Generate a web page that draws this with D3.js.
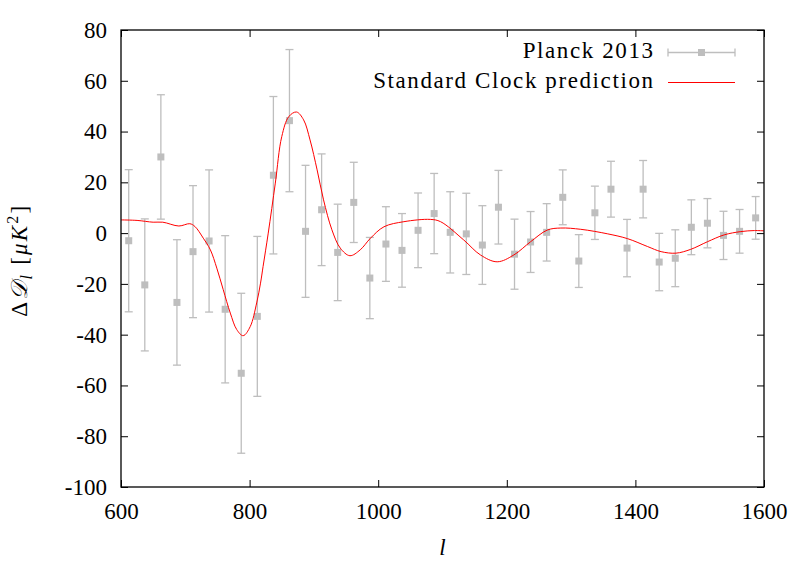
<!DOCTYPE html>
<html>
<head>
<meta charset="utf-8">
<script src="https://cdn.jsdelivr.net/npm/d3@7"></script>
<style>
	body { margin: 0; background: #fff; }
	text { font-family: "Liberation Serif", "DejaVu Serif", serif; }
</style>
</head>
<body>
<svg id="svg1" width="809" height="567"></svg>
<script>

// Planck 2013 binned residuals
var multipoles = [612, 637, 662, 687, 712, 737, 762, 787, 812, 837,
	862, 887, 912, 937, 962, 987, 1012, 1037, 1062, 1087,
	1112, 1137, 1162, 1187, 1212, 1237, 1262, 1287, 1312, 1337,
	1362, 1387, 1412, 1437, 1462, 1487, 1512, 1537, 1562, 1587];
var planck_values = [-3, -20.4, 30, -27.3, -7.3, -3.1, -30, -55.2, -32.8, 22.8,
	44.3, 0.7, 9.2, -7.6, 12.1, -17.7, -4.3, -6.8, 1.1, 7.7,
	0.3, -0.3, -4.7, 10.2, -8.3, -3.5, 0.3, 14.1, -11, 8,
	17.3, -5.9, 17.3, -11.4, -9.9, 2.3, 3.9, -0.9, 0.7, 6];
var planck_errors = [28, 26, 24.5, 24.7, 26, 28, 29, 31.5, 31.5, 31,
	28, 26, 22, 19, 15.8, 16, 14.7, 14.5, 14.7, 15.8,
	16, 16, 15.5, 14.5, 13.8, 12, 11.3, 10.8, 10.4, 10.5,
	11, 11.3, 11.3, 11.3, 11.2, 10.8, 9.7, 9.5, 8.6, 8.4];

// standard clock curve
var clock_l = [600, 625, 650, 665, 690, 707, 715, 728, 739, 749,
	759, 770, 780, 790, 801, 811, 817, 821, 829, 840,
	850, 861, 873, 884, 894, 905, 915, 928, 941, 956,
	972, 988, 1009, 1040, 1081, 1097, 1133, 1159, 1185, 1211,
	1237, 1263, 1284, 1315, 1357, 1388, 1419, 1440, 1463, 1486,
	1512, 1538, 1564, 1585, 1600];
var clock_values = [5.2, 5.0, 4.3, 4.3, 2.8, 3.7, 2.6, -2, -6.6, -13.8,
	-22.3, -31.5, -38, -40.4, -36.8, -27.5, -19.7, -13.1, 0, 19.7,
	38, 45.9, 47.7, 44.6, 36.7, 24.9, 13.1, 1.3, -5.9, -8.9,
	-6.6, -2, 2.5, 4.5, 5.4, 4.5, -2.7, -8.6, -11.3, -8.6,
	-3.4, 1.2, 2, 1.5, -0.3, -2.2, -5.3, -7.3, -7.9, -6.4,
	-3.4, -0.7, 0.6, 1, 0.9];

var x_ticks = [600, 800, 1000, 1200, 1400, 1600];
var y_ticks = [-100, -80, -60, -40, -20, 0, 20, 40, 60, 80];

var legend_labels = ["Planck 2013", "Standard Clock prediction"];

var draw_chart = function()
{
	var margin = {top: 30, right: 45, bottom: 80, left: 121},
		width = 809 - margin.left - margin.right,
		height = 567 - margin.top - margin.bottom;

	var grey = "#bebebe";
	var font_size = "23px";

	var svg = d3.select("#svg1")
		.append("g")
		.attr("transform", "translate(" + margin.left + "," + margin.top + ")");

	var x = d3.scaleLinear().domain([600, 1600]).range([0, width]);
	var y = d3.scaleLinear().domain([-100, 80]).range([height, 0]);

	// ticks drawn inward on all four sides (gnuplot style)
	var xAxis = d3.axisBottom(x).tickValues(x_ticks).tickFormat(d3.format("d"))
		.tickSizeInner(-7).tickSizeOuter(0).tickPadding(16);
	var yAxis = d3.axisLeft(y).tickValues(y_ticks).tickFormat(d3.format("d"))
		.tickSizeInner(-7).tickSizeOuter(0).tickPadding(14);

	var gx = svg.append("g")
		.attr("transform", "translate(0," + height + ")")
		.call(xAxis);
	var gy = svg.append("g").call(yAxis);

	svg.append("g")
		.call(d3.axisTop(x).tickValues(x_ticks).tickSizeInner(-7).tickSizeOuter(0).tickFormat(""));
	svg.append("g")
		.attr("transform", "translate(" + width + ",0)")
		.call(d3.axisRight(y).tickValues(y_ticks).tickSizeInner(-7).tickSizeOuter(0).tickFormat(""));

	svg.selectAll(".domain").remove();
	svg.selectAll(".tick line").attr("stroke", "#000").attr("stroke-width", 1);
	svg.selectAll(".tick text")
		.style("font-size", font_size)
		.style("font-family", "Liberation Serif")
		.attr("fill", "#000");
	gx.selectAll(".tick text").attr("dy", "0.71em");
	// hyphen rather than the unicode minus, as in the original
	gy.selectAll(".tick text").text(function(d) { return String(d); });

	// data: error bars + squares
	var pts = multipoles.map(function(l, i) {
		return {l: l, v: planck_values[i], e: planck_errors[i]};
	});

	var bars = svg.append("g").selectAll(".bar")
		.data(pts)
		.enter().append("g")
		.attr("class", "bar")
		.attr("stroke", grey)
		.attr("stroke-width", 1.3);

	bars.append("line")
		.attr("x1", function(d) { return x(d.l); })
		.attr("x2", function(d) { return x(d.l); })
		.attr("y1", function(d) { return y(d.v + d.e); })
		.attr("y2", function(d) { return y(d.v - d.e); });
	bars.append("line")
		.attr("x1", function(d) { return x(d.l) - 4; })
		.attr("x2", function(d) { return x(d.l) + 4; })
		.attr("y1", function(d) { return y(d.v + d.e); })
		.attr("y2", function(d) { return y(d.v + d.e); });
	bars.append("line")
		.attr("x1", function(d) { return x(d.l) - 4; })
		.attr("x2", function(d) { return x(d.l) + 4; })
		.attr("y1", function(d) { return y(d.v - d.e); })
		.attr("y2", function(d) { return y(d.v - d.e); });

	svg.append("g").selectAll("rect")
		.data(pts)
		.enter().append("rect")
		.attr("x", function(d) { return x(d.l) - 3.5; })
		.attr("y", function(d) { return y(d.v) - 3.5; })
		.attr("width", 7)
		.attr("height", 7)
		.attr("fill", grey);

	// prediction curve
	var line = d3.line()
		.x(function(d) { return x(d[0]); })
		.y(function(d) { return y(d[1]); })
		.curve(d3.curveCatmullRom.alpha(0.5));

	svg.append("path")
		.datum(clock_l.map(function(l, i) { return [l, clock_values[i]]; }))
		.attr("d", line)
		.attr("fill", "none")
		.attr("stroke", "#ff0000")
		.attr("stroke-width", 1);

	// frame
	svg.append("rect")
		.attr("width", width)
		.attr("height", height)
		.attr("fill", "none")
		.attr("stroke", "#000")
		.attr("stroke-width", 1.3);

	// legend
	var legend = svg.append("g").attr("transform", "translate(532,0)");
	legend.selectAll("text")
		.data(legend_labels)
		.enter().append("text")
		.attr("x", 1.6)
		.attr("y", function(d, i) { return 28 + i * 30; })
		.attr("text-anchor", "end")
		.style("font-size", font_size)
		.style("letter-spacing", "1.6px")
		.text(function(d) { return d; });

	var lg = legend.append("g").attr("stroke", grey).attr("stroke-width", 1.3);
	lg.append("line").attr("x1", 15).attr("x2", 82).attr("y1", 22.5).attr("y2", 22.5);
	lg.append("line").attr("x1", 15).attr("x2", 15).attr("y1", 18.5).attr("y2", 26.5);
	lg.append("line").attr("x1", 82).attr("x2", 82).attr("y1", 18.5).attr("y2", 26.5);
	legend.append("rect")
		.attr("x", 48.5 - 3.5).attr("y", 19).attr("width", 7).attr("height", 7)
		.attr("fill", grey);
	legend.append("line")
		.attr("x1", 15).attr("x2", 82).attr("y1", 52.5).attr("y2", 52.5)
		.attr("stroke", "#ff0000").attr("stroke-width", 1);

	// axis titles
	svg.append("text")
		.attr("x", x(1100))
		.attr("y", height + 68)
		.attr("text-anchor", "middle")
		.style("font-size", font_size)
		.style("font-style", "italic")
		.text("l");

	var ylab = svg.append("text")
		.attr("transform", "translate(-94," + (y(0) + 27) + ") rotate(-90)")
		.attr("text-anchor", "middle")
		.style("font-size", font_size)
		.style("letter-spacing", "2.2px");
	ylab.append("tspan").text("Δ");
	ylab.append("tspan").style("font-style", "italic").text("𝒟");
	ylab.append("tspan").style("font-style", "italic").style("font-size", "16px").attr("dy", 5).text("l");
	ylab.append("tspan").attr("dy", -5).text(" [");
	ylab.append("tspan").style("font-style", "italic").text("μK");
	ylab.append("tspan").style("font-size", "16px").attr("dy", -9).text("2");
	ylab.append("tspan").attr("dy", 9).text("]");
}

draw_chart();

</script>
</body>
</html>
